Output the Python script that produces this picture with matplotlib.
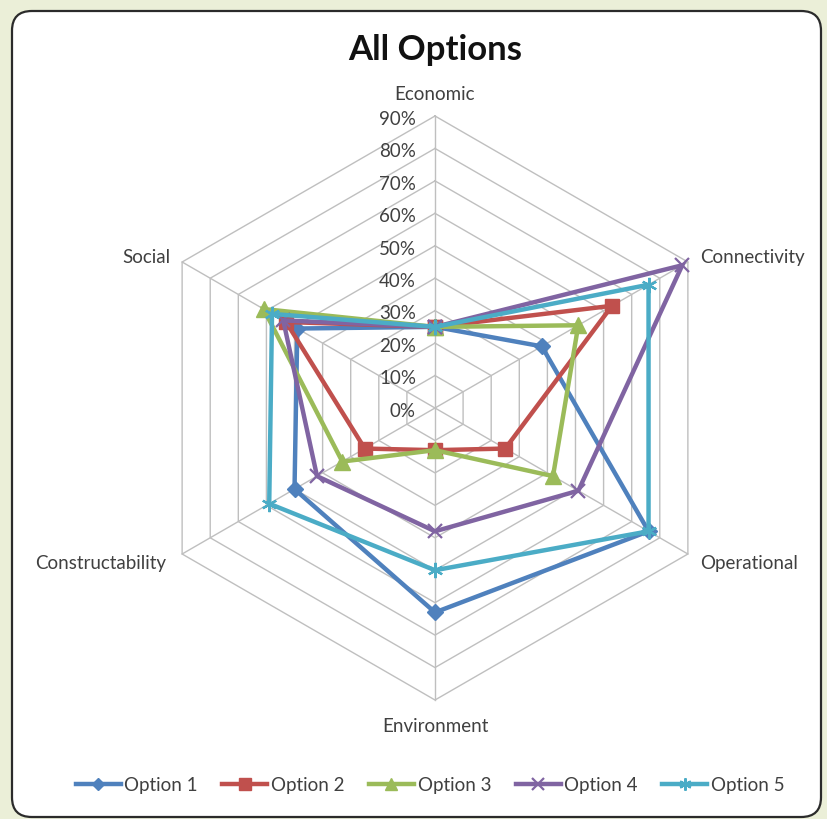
import numpy as np
import matplotlib
matplotlib.use("Agg")
import matplotlib.pyplot as plt
from matplotlib.patches import FancyBboxPatch
from matplotlib.lines import Line2D

plt.rcParams['font.family'] = ['Lato', 'DejaVu Sans']

categories = ["Economic", "Connectivity", "Operational", "Environment", "Constructability", "Social"]
series_names = ["Option 1", "Option 2", "Option 3", "Option 4", "Option 5"]
option1 = [25, 38, 76, 63, 50, 49]
option2 = [25, 63, 25, 13, 25, 53]
option3 = [25, 51, 42, 13, 33, 61]
option4 = [25, 88, 51, 38, 42, 54]
option5 = [25, 76, 76, 50, 59, 58]
series_values = [option1, option2, option3, option4, option5]
tick_values = [0, 10, 20, 30, 40, 50, 60, 70, 80, 90]
tick_labels = ["0%", "10%", "20%", "30%", "40%", "50%", "60%", "70%", "80%", "90%"]

colors = ["#4F81BD", "#C0504D", "#9BBB59", "#8064A2", "#4BACC6"]
markers = ["D", "s", "^", "x", (6, 2, 0)]
msizes = [8, 10, 11, 10, 11]

W, H = 827, 819
fig = plt.figure(figsize=(W / 100, H / 100), dpi=100)
fig.patch.set_facecolor("#EBEFD8")

# rounded white panel
panel = FancyBboxPatch((12 / W, 2 / H), (821 - 12) / W, (808 - 2) / H,
                       boxstyle="round,pad=0,rounding_size=0.024",
                       transform=fig.transFigure, facecolor="white",
                       edgecolor="#2b2b2b", linewidth=1.6, zorder=0)
fig.patches.append(panel)

# radar axes in percent units; center at pixel (435, 408 from top)
cx, cy = 435.0, 408.0
k = 292.0 / 90.0
ax = fig.add_axes([0, 0, 1, 1])
ax.set_zorder(2)
ax.set_xlim(-cx / k, (W - cx) / k)
ax.set_ylim(-(H - cy) / k, cy / k)
ax.axis("off")
ax.patch.set_alpha(0)

n = len(categories)
angles = np.deg2rad(90 - np.arange(n) * 360.0 / n)
ux, uy = np.cos(angles), np.sin(angles)

grid_color = "#BFBFBF"
for v in tick_values[1:]:
    ax.plot(np.append(ux, ux[0]) * v, np.append(uy, uy[0]) * v,
            color=grid_color, lw=1.0, zorder=1)
vmax = tick_values[-1]
for i in range(n):
    ax.plot([0, ux[i] * vmax], [0, uy[i] * vmax], color=grid_color, lw=1.0, zorder=1)

# tick labels along the Economic axis
for v, lab in zip(tick_values, tick_labels):
    ax.text(-19 / k, v - 1.0, lab, ha="right", va="center", fontsize=13.5,
            color="#404040", zorder=2)

# category labels
lab_cfg = {
    "Economic": dict(dx=0, dy=21, ha="center"),
    "Connectivity": dict(dx=12, dy=4, ha="left"),
    "Operational": dict(dx=12, dy=-10, ha="left"),
    "Environment": dict(dx=0, dy=-27, ha="center"),
    "Constructability": dict(dx=-16, dy=-10, ha="right"),
    "Social": dict(dx=-12, dy=4, ha="right"),
}
for i, c in enumerate(categories):
    cfg = lab_cfg[c]
    ax.text(ux[i] * vmax + cfg["dx"] / k, uy[i] * vmax + cfg["dy"] / k, c,
            ha=cfg["ha"], va="center", fontsize=13.5, color="#404040")

# series
handles = []
for name, vals, col, mk, ms in zip(series_names, series_values, colors, markers, msizes):
    v = np.array(vals, dtype=float)
    xs = np.append(ux * v, ux[0] * v[0])
    ys = np.append(uy * v, uy[0] * v[0])
    mew = 1.6 if mk in ("x",) or isinstance(mk, tuple) else 1.0
    ax.plot(xs, ys, color=col, lw=3.2, marker=mk, markersize=ms,
            markeredgewidth=mew, markeredgecolor=col, markerfacecolor=col,
            zorder=3, solid_joinstyle="miter")
    handles.append(Line2D([0], [0], color=col, lw=3.2, marker=mk, markersize=ms * 0.8,
                          markeredgewidth=mew, markeredgecolor=col,
                          markerfacecolor=col))

fig.text(435 / W, 1 - 50 / H, "All Options", ha="center", va="center",
         fontsize=25, fontweight="bold", color="#111111")

leg = fig.legend(handles, series_names, loc="center",
                 bbox_to_anchor=(430 / W, 1 - 785 / H), ncol=5, frameon=False,
                 fontsize=13.5, handlelength=2.4, handletextpad=0.2,
                 columnspacing=1.3, labelcolor="#404040")

fig.savefig("out.png", dpi=100, facecolor=fig.get_facecolor())
